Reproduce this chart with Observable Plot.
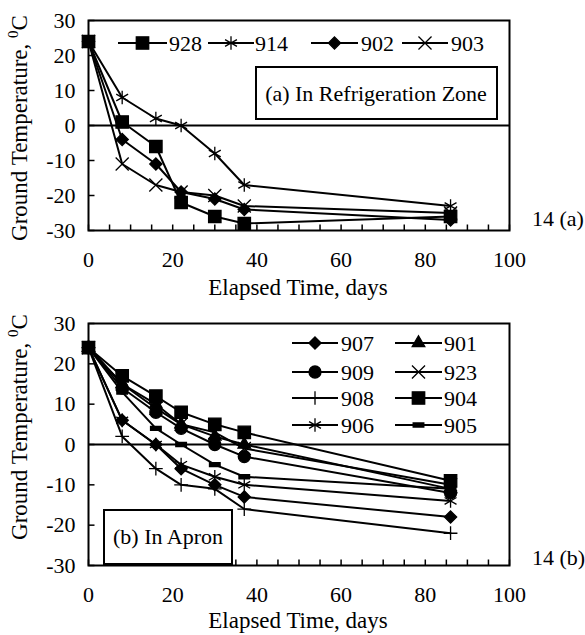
<!DOCTYPE html>
<html><head><meta charset="utf-8">
<script src="https://cdn.jsdelivr.net/npm/d3@7"></script>
<script src="https://cdn.jsdelivr.net/npm/@observablehq/plot@0.6"></script>
<style>
body{margin:0;background:#fff}
#c{position:relative;width:585px;height:635px;background:#fff}
#c svg{position:absolute;left:0;overflow:visible}
</style>
</head><body><div id="c"></div>
<script>
// ---- data ----
const days = [0, 8, 16, 22, 30, 37, 86];
// (a) In Refrigeration Zone
const seriesA = ["928", "914", "902", "903"];
const temp928 = [24, 1, -6, -22, -26, -28, -26];
const temp914 = [24, 8, 2, 0, -8, -17, -23];
const temp902 = [24, -4, -11, -19, -21, -24, -27];
const temp903 = [24, -11, -17, -19, -20, -23, -25];
// (b) In Apron
const seriesB = ["907", "901", "909", "923", "908", "904", "906", "905"];
const temp907 = [24, 6, 0, -6, -10, -13, -18];
const temp901 = [24, 15, 10, 5, 2, 0, -11];
const temp909 = [24, 14, 8, 4, 0, -3, -12];
const temp923 = [24, 15, 9, 5, 3, -1, -10];
const temp908 = [24, 2, -6, -10, -11, -16, -22];
const temp904 = [24, 17, 12, 8, 5, 3, -9];
const temp906 = [24, 6, 0, -5, -8, -10, -14];
const temp905 = [24, 13, 4, 0, -5, -8, -11];
// ticks
const xTickLabels = [0, 20, 40, 60, 80, 100];
const xMinorTicks = [0, 5, 10, 15, 20, 25, 30, 35, 40, 45, 50, 55, 60, 65, 70, 75, 80, 85, 90, 95, 100];
const yTickLabels = [-30, -20, -10, 0, 10, 20, 30];
const xTitle = "Elapsed Time, days";
const yTitle = "Ground Temperature, ";
const panelTitleA = "(a) In Refrigeration Zone";
const panelTitleB = "(b) In Apron";
const figLabelA = "14 (a)";
const figLabelB = "14 (b)";

// ---- styles ----
const FONT = "'Liberation Serif', 'Times New Roman', serif";
const dash = {draw(ctx, size) { const w = Math.sqrt(size) * 0.5; ctx.moveTo(-w, -2); ctx.lineTo(w, -2); ctx.lineTo(w, 2); ctx.lineTo(-w, 2); ctx.closePath(); }};
const tickUp = {draw(ctx) { ctx.moveTo(0, 0); ctx.lineTo(0, -6); }};
const tickRight = {draw(ctx) { ctx.moveTo(0, 0); ctx.lineTo(6, 0); }};
const d3sym = {square: d3.symbolSquare, asterisk: d3.symbolAsterisk, diamond2: d3.symbolDiamond2, times: d3.symbolTimes, triangle2: d3.symbolTriangle2, circle: d3.symbolCircle, plus: d3.symbolPlus, dash: dash};
const symOf = (name) => name === "dash" ? dash : name;
const stylesA = {"928": ["square", 7], "914": ["asterisk", 6.5], "902": ["diamond2", 5.5], "903": ["times", 6]};
const stylesB = {"907": ["diamond2", 5.5], "901": ["triangle2", 6], "909": ["circle", 6], "923": ["times", 6], "908": ["plus", 4.5], "904": ["square", 7], "906": ["asterisk", 6.5], "905": ["dash", 6]};

function makePanel({series, values, styles, height, marginTop}) {
  const rows = series.flatMap((id, k) => days.map((day, i) => ({id, day, temp: values[k][i]})));
  return Plot.plot({
    width: 585, height,
    marginLeft: 88, marginRight: 76, marginTop, marginBottom: 70,
    x: {domain: [0, 100]},
    y: {domain: [-30, 30]},
    style: {fontFamily: FONT, fontSize: "22px", color: "black", background: "transparent", overflow: "visible"},
    marks: [
      Plot.ruleY([0], {stroke: "black", strokeWidth: 2}),
      Plot.line(rows, {x: "day", y: "temp", z: "id", stroke: "black", strokeWidth: 2}),
      ...series.map(id => {
        const [sym, r] = styles[id];
        return Plot.dot(rows.filter(d => d.id === id), {x: "day", y: "temp", symbol: symOf(sym), r, fill: "black", stroke: "black", strokeWidth: 1.3});
      }),
      Plot.dot(xMinorTicks, {x: d => d, y: () => yTickLabels[0], symbol: tickUp, r: 3, fill: "none", stroke: "black", strokeWidth: 1.5}),
      Plot.dot(yTickLabels, {x: () => xTickLabels[0], y: d => d, symbol: tickRight, r: 3, fill: "none", stroke: "black", strokeWidth: 1.5}),
      Plot.frame({stroke: "black", strokeWidth: 2}),
      Plot.axisX({ticks: xTickLabels, tickSize: 0, tickPadding: 21, tickFormat: d => String(d), label: null, fontSize: 22}),
      Plot.axisY({ticks: yTickLabels, tickSize: 0, tickPadding: 13, tickFormat: d => String(d), label: null, fontSize: 22})
    ]
  });
}

function decorate(svgNode, {frameBottom, titleOffset, titleCenterY, figLabel, figLabelY}) {
  const svg = d3.select(svgNode);
  const g = svg.append("g").attr("font-family", FONT).attr("font-size", 22).attr("fill", "black").attr("text-anchor", "start");
  // x title
  g.append("text").attr("x", 298).attr("y", frameBottom + titleOffset).attr("font-size", 23).attr("text-anchor", "middle").text(xTitle);
  // y title with superscript
  const yt = g.append("text").attr("transform", `translate(27,${titleCenterY}) rotate(-90)`).attr("font-size", 23).attr("text-anchor", "middle");
  yt.append("tspan").text(yTitle);
  yt.append("tspan").attr("font-size", 15).attr("dy", -9).text("0");
  yt.append("tspan").attr("dy", 9).text("C");
  // figure label
  g.append("text").attr("x", 532).attr("y", figLabelY).attr("text-anchor", "start").text(figLabel);
  return g;
}

function legendEntry(g, id, style, x0, x1, y, tx) {
  const [sym, r] = style;
  g.append("line").attr("x1", x0).attr("x2", x1).attr("y1", y).attr("y2", y).attr("stroke", "black").attr("stroke-width", 2);
  g.append("path").attr("d", d3.symbol(d3sym[sym], Math.PI * r * r)()).attr("transform", `translate(${(x0 + x1) / 2},${y})`)
    .attr("fill", "black").attr("stroke", "black").attr("stroke-width", 1.3);
  g.append("text").attr("x", tx).attr("y", y).attr("dy", "0.35em").attr("text-anchor", "start").text(id);
}

const c = document.getElementById("c");

// ---- panel (a) ----
const plotA = makePanel({series: seriesA, values: [temp928, temp914, temp902, temp903], styles: stylesA, height: 300, marginTop: 20});
plotA.style.top = "0px";
c.appendChild(plotA);
const gA = decorate(plotA, {frameBottom: 230, titleOffset: 65, titleCenterY: 128, figLabel: figLabelA, figLabelY: 226});
const legA = [[118, 167, 169], [208, 254, 255], [311, 358, 361], [402, 448, 451]];
seriesA.forEach((id, i) => legendEntry(gA, id, stylesA[id], legA[i][0], legA[i][1], 43, legA[i][2]));
gA.append("rect").attr("x", 256).attr("y", 67).attr("width", 241).attr("height", 52).attr("fill", "white").attr("stroke", "black").attr("stroke-width", 2);
gA.append("text").attr("x", 376).attr("y", 93).attr("dy", "0.35em").attr("text-anchor", "middle").text(panelTitleA);

// ---- panel (b) ----
const plotB = makePanel({series: seriesB, values: [temp907, temp901, temp909, temp923, temp908, temp904, temp906, temp905], styles: stylesB, height: 335, marginTop: 23});
plotB.style.top = "300px";
c.appendChild(plotB);
const gB = decorate(plotB, {frameBottom: 265, titleOffset: 63, titleCenterY: 127, figLabel: figLabelB, figLabelY: 265});
const rowsY = [43, 72, 98, 125];
seriesB.forEach((id, i) => {
  const col = i % 2, row = Math.floor(i / 2);
  const [x0, x1, tx] = col === 0 ? [292, 338, 341] : [395, 442, 444];
  legendEntry(gB, id, stylesB[id], x0, x1, rowsY[row], tx);
});
gB.append("rect").attr("x", 104).attr("y", 210).attr("width", 128).attr("height", 54).attr("fill", "white").attr("stroke", "black").attr("stroke-width", 2);
gB.append("text").attr("x", 168).attr("y", 236).attr("dy", "0.35em").attr("text-anchor", "middle").text(panelTitleB);
</script>
</body></html>
